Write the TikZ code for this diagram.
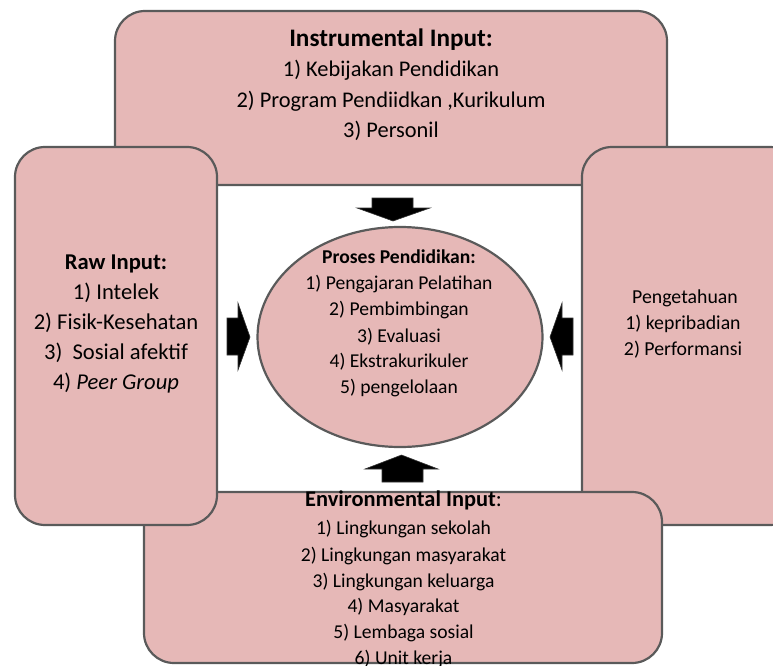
\documentclass[tikz,border=0pt]{standalone}
\usepackage{fontspec}
\setmainfont{Carlito}
\usetikzlibrary{shapes.geometric}
\definecolor{boxfill}{HTML}{E6B8B7}
\definecolor{boxline}{HTML}{5A5A5A}
\begin{document}
\begin{tikzpicture}[x=1pt,y=-1pt,
  panel/.style={draw=boxline,fill=boxfill,line width=2.2pt,rounded corners=30pt},
  txt/.style={anchor=base,inner sep=0pt},
  topf/.style={txt,font=\fontsize{22.4}{25}\selectfont},
  toptitle/.style={txt,font=\fontsize{25.2}{28}\selectfont\bfseries},
  rawf/.style={txt,font=\fontsize{22.6}{25}\selectfont},
  rightf/.style={txt,font=\fontsize{19.8}{22}\selectfont},
  ellf/.style={txt,font=\fontsize{19.6}{22}\selectfont},
  botf/.style={txt,font=\fontsize{19.6}{22}\selectfont},
  bottitle/.style={txt,font=\fontsize{22.4}{25}\selectfont},
  blockarrow/.style={fill=black,draw=black!80,line width=0.6pt}]
\useasboundingbox (0,0) rectangle (773,666);
\clip (0,0) rectangle (773,666);
% panels
\draw[panel] (115,11) rectangle (667,185);
\coordinate (topbox) at (391,98);
\draw[panel] (582,147) rectangle (800,525);
\coordinate (rightbox) at (690,335);
\draw[panel] (144,492) rectangle (662,663);
\coordinate (botbox) at (403,578);
\draw[panel] (15,147) rectangle (217,525);
\coordinate (leftbox) at (116,336);
% central ellipse
\node[draw=boxline,fill=boxfill,line width=2.2pt,ellipse,minimum width=285pt,minimum height=220pt,inner sep=0pt] (proc) at (400,337) {};
% block arrows
\fill[blockarrow] (372,198) -- (413,198) -- (413,208) -- (430,208) -- (393,221) -- (357,208) -- (372,208) -- cycle;
\fill[blockarrow] (382,482) -- (423,482) -- (423,469) -- (438,469) -- (401.5,455) -- (365,469) -- (382,469) -- cycle;
\fill[blockarrow] (227,318) -- (238,318) -- (238,303) -- (250,337) -- (238,370) -- (238,355) -- (227,355) -- cycle;
\fill[blockarrow] (573,318) -- (562,318) -- (562,303) -- (550,337) -- (562,370) -- (562,355) -- (573,355) -- cycle;
% top texts
\node[toptitle] (t0) at (391,47) {Instrumental Input:};
\node[topf] (t1) at (391,77) {1) Kebijakan Pendidikan};
\node[topf] (t2) at (391,108) {2) Program Pendiidkan ,Kurikulum};
\node[topf] (t3) at (391,137) {3) Personil};
% raw input texts
\node[rawf] (r0) at (116,269) {\textbf{Raw Input:}};
\node[rawf] (r1) at (116,299) {1) Intelek};
\node[rawf] (r2) at (116,329) {2) Fisik-Kesehatan};
\node[rawf] (r3) at (116,359) {3)\ \ Sosial afektif};
\node[rawf] (r4) at (116,389) {4) \textit{Peer Group}};
% right texts
\node[rightf] (p0) at (685,303) {Pengetahuan};
\node[rightf] (p1) at (683,329) {1) kepribadian};
\node[rightf] (p2) at (683,355) {2) Performansi};
% ellipse texts
\node[ellf] (e0) at (399,263) {\textbf{Proses Pendidikan:}};
\node[ellf] (e1) at (399,289) {1) Pengajaran Pelatihan};
\node[ellf] (e2) at (399,315) {2) Pembimbingan};
\node[ellf] (e3) at (399,342) {3) Evaluasi};
\node[ellf] (e4) at (399,367) {4) Ekstrakurikuler};
\node[ellf] (e5) at (399,393) {5) pengelolaan};
% bottom texts
\node[bottitle] (b0) at (403.5,506) {\textbf{Environmental Input}:};
\node[botf] (b1) at (403.5,534) {1) Lingkungan sekolah};
\node[botf] (b2) at (403.5,561) {2) Lingkungan masyarakat};
\node[botf] (b3) at (403.5,587) {3) Lingkungan keluarga};
\node[botf] (b4) at (403.5,612) {4) Masyarakat};
\node[botf] (b5) at (403.5,638) {5) Lembaga sosial};
\node[botf] (b6) at (403.5,664) {6) Unit kerja};
\end{tikzpicture}
\end{document}
